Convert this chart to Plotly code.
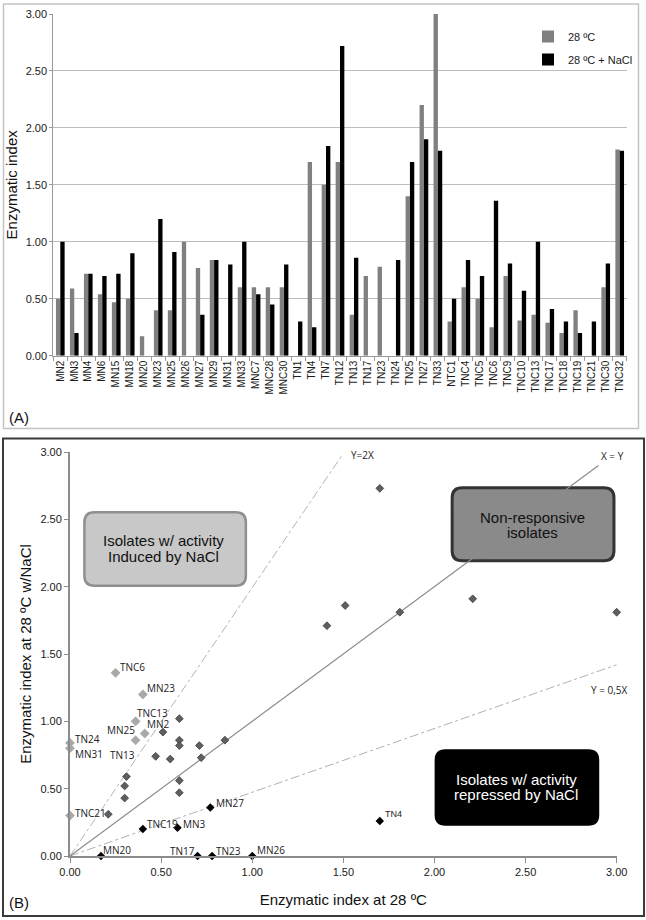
import plotly.graph_objects as go

# ---------------- Data: panel A (bar chart) ----------------
isolates = ["MN2", "MN3", "MN4", "MN6", "MN15", "MN18", "MN20", "MN23", "MN25", "MN26",
            "MN27", "MN29", "MN31", "MN33", "MNC7", "MNC28", "MNC30", "TN1", "TN4", "TN7",
            "TN12", "TN13", "TN17", "TN23", "TN24", "TN25", "TN27", "TN33", "NTC1", "TNC4",
            "TNC5", "TNC6", "TNC9", "TNC10", "TNC13", "TNC17", "TNC18", "TNC19", "TNC21",
            "TNC30", "TNC32"]
ei_28 = [0.50, 0.59, 0.72, 0.54, 0.47, 0.50, 0.17, 0.40, 0.40, 1.00,
         0.77, 0.84, 0.00, 0.60, 0.60, 0.60, 0.60, 0.00, 1.70, 1.50,
         1.70, 0.36, 0.70, 0.78, 0.00, 1.40, 2.20, 3.00, 0.30, 0.60,
         0.50, 0.25, 0.70, 0.31, 0.36, 0.29, 0.20, 0.40, 0.00,
         0.60, 1.81]
ei_28_nacl = [1.00, 0.20, 0.72, 0.70, 0.72, 0.90, 0.00, 1.20, 0.91, 0.00,
              0.36, 0.84, 0.80, 1.00, 0.54, 0.45, 0.80, 0.30, 0.25, 1.84,
              2.72, 0.86, 0.00, 0.00, 0.84, 1.70, 1.90, 1.80, 0.50, 0.84,
              0.70, 1.36, 0.81, 0.57, 1.00, 0.41, 0.30, 0.20, 0.30,
              0.81, 1.80]
bar_names = ["28 ºC", "28 ºC + NaCl"]

# ---------------- Data: panel B (scatter) ----------------
induced_x = [0.25, 0.40, 0.36, 0.41, 0.36, 0.00, 0.00, 0.00]
induced_y = [1.36, 1.20, 1.00, 0.91, 0.86, 0.84, 0.80, 0.30]
induced_labels = ["TNC6", "MN23", "TNC13", "MN2", "MN25", "TN13", "TN24", "MN31", "TNC21"]
induced_label_point = [0, 1, 2, 3, 4, 4, 5, 6, 7]

nonresp_x = [0.21, 0.31, 0.30, 0.30, 0.47, 0.55, 0.51, 0.60, 0.60, 0.60, 0.60, 0.60,
             0.71, 0.72, 0.85, 1.41, 1.70, 1.51, 1.81, 2.21, 3.00]
nonresp_y = [0.31, 0.59, 0.52, 0.43, 0.74, 0.72, 0.92, 1.02, 0.86, 0.82, 0.56, 0.47,
             0.82, 0.73, 0.86, 1.71, 2.73, 1.86, 1.81, 1.91, 1.81]

repressed_x = [0.40, 0.59, 0.17, 0.70, 0.78, 1.00, 0.77, 1.70]
repressed_y = [0.20, 0.21, 0.00, 0.00, 0.00, 0.00, 0.36, 0.26]
repressed_labels = ["TNC19", "MN3", "MN20", "TN17", "TN23", "MN26", "MN27", "TN4"]

line_xy_x = [0, 2.90]
line_xy_y = [0, 2.90]
line_2x_x = [0, 1.49]
line_2x_y = [0, 2.97]
line_05x_x = [0, 3.00]
line_05x_y = [0, 1.42]

# ---------------- Helpers ----------------
W, H = 646, 920
def fx(p):
    return p / W
def fy(p):
    return 1 - p / H

FONT = "Liberation Sans, Arial, sans-serif"
LBLFONT = "Open Sans, sans-serif"

fig = go.Figure()

# Bars
fig.add_trace(go.Bar(x=isolates, y=ei_28, name=bar_names[0], marker_color="#808080",
                     marker_line_width=0, xaxis="x", yaxis="y", legendgroup="a"))
fig.add_trace(go.Bar(x=isolates, y=ei_28_nacl, name=bar_names[1], marker_color="#000000",
                     marker_line_width=0, xaxis="x", yaxis="y", legendgroup="b"))

# Reference lines
fig.add_trace(go.Scatter(x=line_2x_x, y=line_2x_y, mode="lines", xaxis="x2", yaxis="y2",
                         line=dict(color="#b4b4b4", width=1, dash="dashdot"), showlegend=False))
fig.add_trace(go.Scatter(x=line_05x_x, y=line_05x_y, mode="lines", xaxis="x2", yaxis="y2",
                         line=dict(color="#b0b0b0", width=1, dash="dashdot"), showlegend=False))
fig.add_trace(go.Scatter(x=line_xy_x, y=line_xy_y, mode="lines", xaxis="x2", yaxis="y2",
                         line=dict(color="#8c8c8c", width=1.2), showlegend=False))

# Scatter groups
fig.add_trace(go.Scatter(x=nonresp_x, y=nonresp_y, mode="markers", xaxis="x2", yaxis="y2",
                         marker=dict(symbol="diamond", size=6, color="#5f5f5f",
                                     line=dict(color="#3c3c3c", width=0.8)),
                         cliponaxis=False, showlegend=False))
fig.add_trace(go.Scatter(x=induced_x, y=induced_y, mode="markers", xaxis="x2", yaxis="y2",
                         marker=dict(symbol="diamond", size=7, color="#a9a9a9",
                                     line=dict(color="#9a9a9a", width=0.5)),
                         cliponaxis=False, showlegend=False))
fig.add_trace(go.Scatter(x=repressed_x, y=repressed_y, mode="markers", xaxis="x2", yaxis="y2",
                         marker=dict(symbol="diamond", size=6.5, color="#000000"),
                         cliponaxis=False, showlegend=False))

annotations = []

# Point labels (style offsets in pixels)
induced_offsets = [("left", 2, 6), ("left", 2, 6), ("left", -1, 8), ("left", 0, 9.5),
                   ("right", 1, 10), ("right", 1, -15), ("left", 3, 3.5), ("left", 3, -6),
                   ("left", 3, 3)]
for txt, idx, (xa, xs, ys) in zip(induced_labels, induced_label_point, induced_offsets):
    annotations.append(dict(x=induced_x[idx], y=induced_y[idx], xref="x2", yref="y2",
                            text=txt, showarrow=False, xanchor=xa, yanchor="middle",
                            xshift=xs, yshift=ys,
                            font=dict(family=LBLFONT, size=10, color="#222222")))
repressed_offsets = [("left", 2, 5), ("left", 3, 4), ("left", 0, 6.5), ("right", -1, 5),
                     ("left", 2, 5), ("left", 3, 6), ("left", 4, 5), ("left", 3, 7)]
for i, (txt, (xa, xs, ys)) in enumerate(zip(repressed_labels, repressed_offsets)):
    fnt = dict(family=LBLFONT, size=10, color="#222222")
    if txt == "TN4":
        fnt = dict(family=FONT, size=9, color="#222222")
    annotations.append(dict(x=repressed_x[i], y=repressed_y[i], xref="x2", yref="y2",
                            text=txt, showarrow=False, xanchor=xa, yanchor="middle",
                            xshift=xs, yshift=ys, font=fnt))

# Line labels
for txt, lx, ly in [("X = Y", 2.975, 2.97), ("Y=2X", 1.603, 2.977), ("Y = 0,5X", 2.962, 1.232)]:
    annotations.append(dict(x=lx, y=ly, xref="x2", yref="y2", text=txt, showarrow=False,
                            xanchor="center", yanchor="middle",
                            font=dict(family=LBLFONT, size=10, color="#222222")))

# Box texts (two lines each)
box_texts = [
    ("Isolates w/ activity", 0.515, 2.34, "#111111"),
    ("Induced by NaCl", 0.515, 2.225, "#111111"),
    ("Non-responsive", 2.54, 2.515, "#111111"),
    ("isolates", 2.54, 2.40, "#111111"),
    ("Isolates w/ activity", 2.45, 0.565, "#ffffff"),
    ("repressed by NaCl", 2.45, 0.46, "#ffffff"),
]
for txt, bx, by, col in box_texts:
    annotations.append(dict(x=bx, y=by, xref="x2", yref="y2", text=txt, showarrow=False,
                            xanchor="center", yanchor="middle",
                            font=dict(family=FONT, size=15, color=col)))

# Panel labels
annotations.append(dict(x=fx(7), y=fy(417), xref="paper", yref="paper", text="(A)",
                        showarrow=False, xanchor="left", yanchor="middle",
                        font=dict(family=FONT, size=15, color="#111111")))
annotations.append(dict(x=fx(7), y=fy(902), xref="paper", yref="paper", text="(B)",
                        showarrow=False, xanchor="left", yanchor="middle",
                        font=dict(family=FONT, size=15, color="#111111")))

# Shapes
SX = 546.7 / 3.0
SY = 404.0 / 3.0
def rrect(x0, y0, x1, y1, r=10):
    rx, ry = r / SX, r / SY
    return (f"M{x0+rx},{y0} L{x1-rx},{y0} Q{x1},{y0} {x1},{y0+ry} "
            f"L{x1},{y1-ry} Q{x1},{y1} {x1-rx},{y1} L{x0+rx},{y1} "
            f"Q{x0},{y1} {x0},{y1-ry} L{x0},{y0+ry} Q{x0},{y0} {x0+rx},{y0} Z")

shapes = [
    dict(type="rect", xref="paper", yref="paper", x0=fx(3.5), x1=fx(638.5), y0=fy(428.5), y1=fy(4),
         line=dict(color="#c4c4c4", width=1.5), fillcolor="rgba(0,0,0,0)", layer="below"),
    dict(type="rect", xref="paper", yref="paper", x0=fx(3), x1=fx(644), y0=fy(916), y1=fy(438.5),
         line=dict(color="#3a3a3a", width=2), fillcolor="rgba(0,0,0,0)", layer="below"),
    dict(type="path", xref="x2", yref="y2", path=rrect(0.079, 2.007, 0.965, 2.552),
         fillcolor="#c8c8c8", line=dict(color="#8f8f8f", width=2.5), layer="below"),
    dict(type="path", xref="x2", yref="y2", path=rrect(2.097, 2.192, 2.985, 2.734),
         fillcolor="#8a8a8a", line=dict(color="#333333", width=3), layer="below"),
    dict(type="path", xref="x2", yref="y2", path=rrect(2.005, 0.230, 2.900, 0.787),
         fillcolor="#000000", line=dict(color="#000000", width=1.5), layer="below"),
]

axis_common = dict(showline=True, zeroline=False, ticks="outside", automargin=False,
                   tickfont=dict(family=FONT, size=11, color="#1a1a1a"))

fig.update_layout(
    width=W, height=H,
    margin=dict(l=0, r=0, t=0, b=0, autoexpand=False),
    paper_bgcolor="white", plot_bgcolor="white",
    font=dict(family=FONT, color="#1a1a1a"),
    barmode="group", bargap=0.38, bargroupgap=0.0,
    showlegend=True,
    legend=dict(x=fx(528), y=fy(22), xanchor="left", yanchor="top",
                font=dict(family=FONT, size=11, color="#1a1a1a"),
                bgcolor="rgba(0,0,0,0)", itemwidth=30, tracegroupgap=4,
                itemclick=False, itemdoubleclick=False),
    xaxis=dict(domain=[fx(53.3), fx(626.7)], anchor="y", type="category",
               tickangle=-90, tickson="boundaries", ticklen=4, tickcolor="#9a9a9a",
               linecolor="#9a9a9a", linewidth=1, showgrid=False, automargin=False,
               showline=True, zeroline=False, ticks="outside",
               tickfont=dict(family=FONT, size=10, color="#1a1a1a")),
    yaxis=dict(domain=[fy(355.7), fy(14)], anchor="x", range=[0, 3], dtick=0.5,
               tickformat=".2f", showgrid=True, gridcolor="#bdbdbd", gridwidth=1,
               linecolor="#9a9a9a", linewidth=1, ticklen=3, tickcolor="#9a9a9a",
               title=dict(text="Enzymatic index", standoff=4,
                          font=dict(family=FONT, size=15, color="#111111")),
               **axis_common),
    xaxis2=dict(domain=[fx(70), fx(616.7)], anchor="y2", range=[0, 3], dtick=0.5,
                tickformat=".2f", showgrid=False, linecolor="#8c8c8c", linewidth=2,
                ticklen=5, tickcolor="#8c8c8c",
                title=dict(text="Enzymatic index at 28 ºC", standoff=17,
                           font=dict(family=FONT, size=15, color="#111111")),
                **axis_common),
    yaxis2=dict(domain=[fy(856), fy(452)], anchor="x2", range=[0, 3], dtick=0.5,
                tickformat=".2f", showgrid=False, linecolor="#8c8c8c", linewidth=2,
                ticklen=4, tickcolor="#8c8c8c",
                title=dict(text="Enzymatic index at 28 ºC w/NaCl", standoff=5,
                           font=dict(family=FONT, size=15, color="#111111")),
                **axis_common),
    shapes=shapes,
    annotations=annotations,
)

fig.write_html("out.html", config={"displayModeBar": False},
               post_script="document.body.style.margin='0px';document.body.style.padding='0px';")
